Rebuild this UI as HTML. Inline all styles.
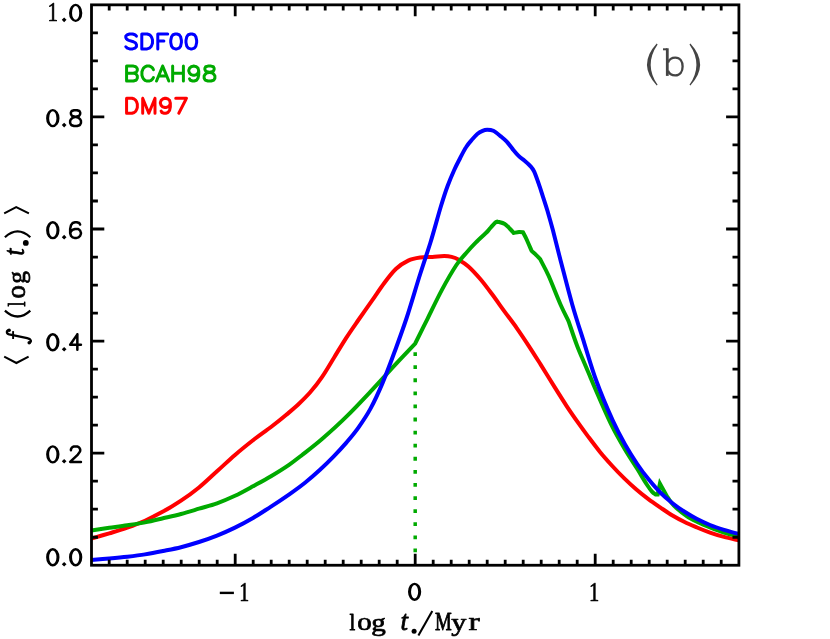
<!DOCTYPE html>
<html><head><meta charset="utf-8"><title>chart</title>
<style>
html,body{margin:0;padding:0;background:#fff;}
body{width:830px;height:639px;overflow:hidden;}
svg{display:block;}
text{font-family:"Liberation Serif",serif;}
.tx{filter:grayscale(1);}
</style></head><body>
<svg width="830" height="639" viewBox="0 0 830 639">
<rect x="0" y="0" width="830" height="639" fill="#fff"/>
<!-- curves -->
<g fill="none" stroke-width="4" stroke-linejoin="round" stroke-linecap="butt">
<path d="M415.2,352.15 V553" stroke="#00aa00" stroke-width="3.5" stroke-dasharray="3.8 9.29"/>
<path d="M91.3,538.6 C94.3,537.7 103.3,535.1 109.3,533.3 C115.3,531.5 121.3,529.8 127.3,527.7 C133.2,525.6 139.1,523.4 145.0,520.7 C150.9,518.0 157.0,514.9 163.0,511.6 C169.0,508.3 175.0,504.7 181.0,500.7 C187.0,496.7 193.0,492.4 199.0,487.5 C205.0,482.6 211.0,476.7 217.0,471.3 C223.0,465.9 229.0,460.2 235.0,455.0 C241.0,449.8 247.0,445.0 253.0,440.3 C259.0,435.6 265.5,431.2 271.0,427.0 C276.5,422.8 281.5,418.8 286.0,415.0 C290.5,411.2 294.2,408.3 298.2,404.5 C302.2,400.7 306.2,396.9 310.2,392.3 C314.2,387.7 318.3,382.5 322.3,376.6 C326.3,370.8 330.3,363.7 334.3,357.2 C338.3,350.7 342.4,343.8 346.4,337.6 C350.4,331.4 354.1,326.2 358.4,320.0 C362.7,313.8 367.7,306.7 372.0,300.6 C376.3,294.5 380.1,288.5 384.1,283.2 C388.1,277.9 392.1,272.6 396.1,268.8 C400.1,265.0 404.2,262.5 408.2,260.6 C412.2,258.7 416.2,258.1 420.2,257.5 C424.2,256.9 428.3,257.1 432.3,256.9 C436.3,256.7 441.1,256.1 444.3,256.1 C447.5,256.1 449.2,256.3 451.6,256.9 C454.0,257.5 456.0,258.2 458.8,259.8 C461.6,261.4 464.8,263.2 468.4,266.4 C472.0,269.6 476.5,274.5 480.5,279.2 C484.5,283.9 488.5,289.4 492.5,294.8 C496.5,300.2 500.6,306.1 504.6,311.6 C508.6,317.1 512.6,322.1 516.6,327.8 C520.6,333.5 524.7,339.7 528.7,345.8 C532.7,351.9 536.4,357.8 540.7,364.6 C545.0,371.5 550.2,380.0 554.5,386.9 C558.8,393.8 562.5,399.7 566.5,405.8 C570.5,411.9 575.0,418.3 578.6,423.4 C582.2,428.5 584.6,431.8 588.2,436.6 C591.8,441.4 596.2,447.3 600.2,452.2 C604.2,457.1 608.3,461.6 612.3,466.0 C616.3,470.4 620.3,474.5 624.3,478.4 C628.3,482.3 632.4,486.1 636.4,489.6 C640.4,493.1 644.4,496.2 648.4,499.2 C652.4,502.2 656.5,504.9 660.5,507.6 C664.5,510.3 668.5,513.1 672.5,515.5 C676.5,517.9 680.5,520.0 684.6,522.0 C688.7,524.0 692.8,525.7 697.0,527.5 C701.2,529.3 705.5,531.0 710.0,532.6 C714.5,534.2 719.2,535.6 724.0,536.9 C728.8,538.2 736.5,539.7 739.0,540.3" stroke="#ff0000"/>
<path d="M91.3,530.4 C94.3,530.0 103.3,528.6 109.3,527.7 C115.3,526.9 121.3,526.2 127.3,525.3 C133.2,524.4 139.1,523.6 145.0,522.4 C150.9,521.2 157.0,519.7 163.0,518.3 C169.0,516.9 175.0,515.6 181.0,514.0 C187.0,512.4 193.0,510.5 199.0,508.7 C205.0,506.9 211.0,505.4 217.0,503.3 C223.0,501.2 229.0,498.6 235.0,495.8 C241.0,493.0 247.0,489.6 253.0,486.3 C259.0,483.0 265.0,479.8 271.0,476.2 C277.0,472.6 283.9,468.3 289.0,464.8 C294.1,461.3 296.2,459.6 301.8,455.2 C307.4,450.8 314.9,445.1 322.3,438.7 C329.7,432.3 338.4,424.5 346.4,416.6 C354.4,408.8 362.5,400.1 370.5,391.6 C378.5,383.1 387.2,373.4 394.6,365.4 C402.1,357.4 411.8,347.1 415.2,343.5 C417.2,339.4 423.1,327.7 427.5,318.8 C431.9,309.9 437.1,298.9 441.9,289.9 C446.7,280.9 452.4,271.1 456.4,265.0 C460.4,258.9 462.8,256.9 466.0,253.2 C469.2,249.5 472.2,246.1 475.7,242.6 C479.1,239.1 484.9,234.0 486.7,232.3 C487.4,231.5 489.6,228.9 491.0,227.3 C492.4,225.7 494.0,223.8 495.1,222.8 C496.2,221.9 497.0,221.8 497.4,221.6 C498.6,222.0 502.7,222.7 504.8,223.9 C506.9,225.1 508.6,227.5 510.1,229.0 C511.6,230.5 513.0,232.2 513.6,232.9 C514.5,232.8 517.4,232.1 519.0,232.0 C520.6,231.9 522.3,232.2 523.0,232.3 C523.7,233.6 525.6,237.1 527.0,240.2 C528.4,243.3 530.8,249.0 531.6,250.8 C532.3,251.5 534.6,253.4 536.0,254.8 C537.4,256.2 539.5,258.5 540.2,259.2 C541.6,262.0 545.2,268.2 548.6,275.8 C552.0,283.4 557.2,297.1 560.6,304.7 C564.0,312.3 567.4,318.8 568.7,321.6 C570.1,325.6 574.1,337.9 577.1,345.7 C580.1,353.5 582.9,359.5 586.7,368.6 C590.6,377.7 595.9,390.4 600.2,400.1 C604.5,409.8 608.2,418.4 612.3,426.6 C616.4,434.8 620.9,442.5 625.0,449.5 C629.1,456.5 633.6,463.0 637.2,468.8 C640.8,474.6 644.3,480.7 646.8,484.5 C649.3,488.3 650.5,489.9 652.0,491.6 C653.5,493.3 655.2,494.1 655.8,494.6 C656.1,494.6 657.4,494.6 657.7,494.6 C658.1,492.8 659.5,485.4 659.9,483.6 C661.1,485.7 665.8,494.3 667.0,496.4 C667.6,497.2 668.9,499.5 670.5,501.5 C672.1,503.5 674.0,505.9 676.7,508.3 C679.5,510.8 683.4,513.9 687.0,516.2 C690.6,518.6 694.6,520.5 698.4,522.4 C702.2,524.3 705.7,525.7 710.0,527.4 C714.3,529.1 719.2,531.0 724.0,532.5 C728.8,534.0 736.5,535.8 739.0,536.4" stroke="#00aa00" stroke-linejoin="miter" stroke-miterlimit="5"/>
<path d="M91.3,559.9 C94.3,559.7 103.3,559.0 109.3,558.5 C115.3,558.0 121.3,557.5 127.3,556.8 C133.2,556.1 139.1,555.4 145.0,554.4 C150.9,553.4 157.0,552.2 163.0,551.0 C169.0,549.8 175.0,548.7 181.0,547.2 C187.0,545.7 193.0,543.9 199.0,542.0 C205.0,540.1 211.0,538.0 217.0,535.6 C223.0,533.2 229.0,530.5 235.0,527.6 C241.0,524.7 247.0,521.5 253.0,518.0 C259.0,514.5 264.9,510.5 271.0,506.6 C277.1,502.7 283.6,498.4 289.3,494.4 C295.0,490.4 299.9,486.9 305.0,482.8 C310.1,478.7 315.2,474.2 320.0,469.8 C324.8,465.4 329.1,461.1 333.5,456.6 C337.9,452.1 342.2,447.4 346.4,442.6 C350.5,437.8 354.4,433.3 358.4,427.6 C362.4,421.9 366.5,416.0 370.5,408.6 C374.5,401.2 378.5,392.6 382.5,383.1 C386.5,373.6 390.6,362.7 394.6,351.8 C398.6,340.9 402.3,331.0 406.6,318.0 C410.9,305.0 416.2,286.5 420.2,274.0 C424.1,261.5 426.8,254.3 430.3,243.0 C433.8,231.7 438.1,215.5 441.0,206.0 C443.9,196.5 445.4,191.9 447.6,186.0 C449.8,180.1 451.9,175.2 454.0,170.5 C456.1,165.8 458.2,161.9 460.2,158.0 C462.2,154.1 464.2,150.0 466.2,147.0 C468.1,144.0 470.0,142.0 471.9,139.8 C473.8,137.6 475.5,135.5 477.3,134.0 C479.1,132.5 481.0,131.5 482.6,130.8 C484.2,130.1 485.4,129.8 487.2,129.8 C489.0,129.8 491.1,129.8 493.3,130.8 C495.5,131.9 498.3,134.3 500.5,136.1 C502.7,137.9 504.5,139.3 506.5,141.4 C508.5,143.5 510.5,146.5 512.5,148.9 C514.5,151.3 516.6,153.9 518.6,155.9 C520.6,157.9 522.6,159.0 524.6,160.7 C526.6,162.4 529.0,164.5 530.6,166.3 C532.2,168.1 532.9,168.8 534.2,171.6 C535.5,174.4 537.1,179.2 538.6,183.4 C540.1,187.6 541.5,192.2 543.0,196.8 C544.5,201.5 546.0,205.8 547.6,211.3 C549.2,216.8 550.7,221.9 552.8,229.8 C554.9,237.8 557.0,246.5 560.2,259.0 C563.5,271.5 568.3,290.6 572.3,304.7 C576.3,318.8 580.3,330.6 584.3,343.3 C588.3,356.0 591.6,368.1 596.4,381.0 C601.1,393.9 608.0,410.0 612.8,420.6 C617.6,431.2 621.1,437.5 625.2,444.7 C629.3,451.9 633.3,458.2 637.2,464.0 C641.1,469.8 644.9,474.8 648.8,479.6 C652.7,484.4 656.5,488.8 660.5,492.7 C664.5,496.6 668.5,500.0 672.5,503.2 C676.5,506.4 680.6,509.2 684.6,511.8 C688.6,514.4 692.4,516.6 696.6,518.8 C700.8,521.0 705.4,523.1 710.0,525.0 C714.6,526.9 719.2,528.4 724.0,529.9 C728.8,531.4 736.5,533.3 739.0,534.0" stroke="#0000ff"/>
</g>
<!-- frame -->
<rect x="91.5" y="4.85" width="647.40" height="560.40" fill="none" stroke="#000" stroke-width="2.8"/>
<path d="M109.2,4.85 v5.6 M109.2,565.25 v-5.6 M127.2,4.85 v5.6 M127.2,565.25 v-5.6 M145.2,4.85 v5.6 M145.2,565.25 v-5.6 M163.2,4.85 v5.6 M163.2,565.25 v-5.6 M181.2,4.85 v5.6 M181.2,565.25 v-5.6 M199.2,4.85 v5.6 M199.2,565.25 v-5.6 M217.2,4.85 v5.6 M217.2,565.25 v-5.6 M235.2,4.85 v11.4 M235.2,565.25 v-11.4 M253.2,4.85 v5.6 M253.2,565.25 v-5.6 M271.2,4.85 v5.6 M271.2,565.25 v-5.6 M289.2,4.85 v5.6 M289.2,565.25 v-5.6 M307.2,4.85 v5.6 M307.2,565.25 v-5.6 M325.2,4.85 v5.6 M325.2,565.25 v-5.6 M343.2,4.85 v5.6 M343.2,565.25 v-5.6 M361.2,4.85 v5.6 M361.2,565.25 v-5.6 M379.2,4.85 v5.6 M379.2,565.25 v-5.6 M397.2,4.85 v5.6 M397.2,565.25 v-5.6 M415.2,4.85 v11.4 M415.2,565.25 v-11.4 M433.2,4.85 v5.6 M433.2,565.25 v-5.6 M451.2,4.85 v5.6 M451.2,565.25 v-5.6 M469.2,4.85 v5.6 M469.2,565.25 v-5.6 M487.2,4.85 v5.6 M487.2,565.25 v-5.6 M505.2,4.85 v5.6 M505.2,565.25 v-5.6 M523.2,4.85 v5.6 M523.2,565.25 v-5.6 M541.2,4.85 v5.6 M541.2,565.25 v-5.6 M559.2,4.85 v5.6 M559.2,565.25 v-5.6 M577.2,4.85 v5.6 M577.2,565.25 v-5.6 M595.2,4.85 v11.4 M595.2,565.25 v-11.4 M613.2,4.85 v5.6 M613.2,565.25 v-5.6 M631.2,4.85 v5.6 M631.2,565.25 v-5.6 M649.2,4.85 v5.6 M649.2,565.25 v-5.6 M667.2,4.85 v5.6 M667.2,565.25 v-5.6 M685.2,4.85 v5.6 M685.2,565.25 v-5.6 M703.2,4.85 v5.6 M703.2,565.25 v-5.6 M721.2,4.85 v5.6 M721.2,565.25 v-5.6 M91.5,537.23 h6.4 M738.9,537.23 h-6.4 M91.5,509.21 h6.4 M738.9,509.21 h-6.4 M91.5,481.19 h6.4 M738.9,481.19 h-6.4 M91.5,453.17 h12.8 M738.9,453.17 h-12.8 M91.5,425.15 h6.4 M738.9,425.15 h-6.4 M91.5,397.13 h6.4 M738.9,397.13 h-6.4 M91.5,369.11 h6.4 M738.9,369.11 h-6.4 M91.5,341.09 h12.8 M738.9,341.09 h-12.8 M91.5,313.07 h6.4 M738.9,313.07 h-6.4 M91.5,285.05 h6.4 M738.9,285.05 h-6.4 M91.5,257.03 h6.4 M738.9,257.03 h-6.4 M91.5,229.01 h12.8 M738.9,229.01 h-12.8 M91.5,200.99 h6.4 M738.9,200.99 h-6.4 M91.5,172.97 h6.4 M738.9,172.97 h-6.4 M91.5,144.95 h6.4 M738.9,144.95 h-6.4 M91.5,116.93 h12.8 M738.9,116.93 h-12.8 M91.5,88.91 h6.4 M738.9,88.91 h-6.4 M91.5,60.89 h6.4 M738.9,60.89 h-6.4 M91.5,32.87 h6.4 M738.9,32.87 h-6.4" stroke="#000" stroke-width="2.8" fill="none"/>
<!-- y tick labels -->
<g class="tx">
<text transform="matrix(0.2102,0,0,0.2636,47.45,21.45)" font-size="100" fill="#000" stroke="#000" stroke-width="2.55" stroke-linejoin="round">1</text>
<path d="M64.15,17.55 l2.35,2.3 l-2.35,2.3 l-2.35,-2.3 z" fill="#000"/>
<path d="M69.00,12.90 a6.65,9.15 0 1,0 13.30,0 a6.65,9.15 0 1,0 -13.30,0 Z M72.05,12.90 a3.60,6.80 0 1,0 7.20,0 a3.60,6.80 0 1,0 -7.20,0 Z" fill="#000" fill-rule="evenodd"/>
<path d="M46.10,118.15 a6.70,9.15 0 1,0 13.40,0 a6.70,9.15 0 1,0 -13.40,0 Z M49.15,118.15 a3.65,6.80 0 1,0 7.30,0 a3.65,6.80 0 1,0 -7.30,0 Z" fill="#000" fill-rule="evenodd"/>
<path d="M64.15,122.80 l2.35,2.3 l-2.35,2.3 l-2.35,-2.3 z" fill="#000"/>
<path d="M74.01,110.25 L71.69,111.00 L70.92,112.51 L70.92,114.01 L71.69,115.52 L73.24,116.27 L76.32,117.02 L78.64,117.77 L80.18,119.28 L80.95,120.78 L80.95,123.04 L80.18,124.55 L79.41,125.30 L77.09,126.05 L74.01,126.05 L71.69,125.30 L70.92,124.55 L70.15,123.04 L70.15,120.78 L70.92,119.28 L72.46,117.77 L74.78,117.02 L77.86,116.27 L79.41,115.52 L80.18,114.01 L80.18,112.51 L79.41,111.00 L77.09,110.25 L74.01,110.25" fill="none" stroke="#000" stroke-width="2.50" stroke-linejoin="round" stroke-linecap="round"/>
<path d="M46.10,230.20 a6.70,9.15 0 1,0 13.40,0 a6.70,9.15 0 1,0 -13.40,0 Z M49.15,230.20 a3.65,6.80 0 1,0 7.30,0 a3.65,6.80 0 1,0 -7.30,0 Z" fill="#000" fill-rule="evenodd"/>
<path d="M64.15,234.85 l2.35,2.3 l-2.35,2.3 l-2.35,-2.3 z" fill="#000"/>
<path d="M80.12,224.56 L79.29,223.05 L76.80,222.30 L75.13,222.30 L72.64,223.05 L70.98,225.31 L70.15,229.07 L70.15,232.83 L70.98,235.84 L72.64,237.35 L75.13,238.10 L75.97,238.10 L78.46,237.35 L80.12,235.84 L80.95,233.59 L80.95,232.83 L80.12,230.58 L78.46,229.07 L75.97,229.07 L75.13,229.07 L72.64,229.82 L70.98,231.33 L70.15,233.59" fill="none" stroke="#000" stroke-width="2.50" stroke-linejoin="round" stroke-linecap="round"/>
<path d="M46.10,342.25 a6.70,9.15 0 1,0 13.40,0 a6.70,9.15 0 1,0 -13.40,0 Z M49.15,342.25 a3.65,6.80 0 1,0 7.30,0 a3.65,6.80 0 1,0 -7.30,0 Z" fill="#000" fill-rule="evenodd"/>
<path d="M64.15,346.90 l2.35,2.3 l-2.35,2.3 l-2.35,-2.3 z" fill="#000"/>
<path d="M77.35,334.35 L70.15,344.68 L80.95,344.68 M77.35,334.35 L77.35,349.85" fill="none" stroke="#000" stroke-width="2.50" stroke-linejoin="round" stroke-linecap="round"/>
<path d="M46.10,454.35 a6.70,9.15 0 1,0 13.40,0 a6.70,9.15 0 1,0 -13.40,0 Z M49.15,454.35 a3.65,6.80 0 1,0 7.30,0 a3.65,6.80 0 1,0 -7.30,0 Z" fill="#000" fill-rule="evenodd"/>
<path d="M64.15,459.00 l2.35,2.3 l-2.35,2.3 l-2.35,-2.3 z" fill="#000"/>
<path d="M70.92,450.14 L70.92,449.40 L71.69,447.93 L72.46,447.19 L74.01,446.45 L77.09,446.45 L78.64,447.19 L79.41,447.93 L80.18,449.40 L80.18,450.88 L79.41,452.35 L77.86,454.57 L70.15,461.95 L80.95,461.95" fill="none" stroke="#000" stroke-width="2.50" stroke-linejoin="round" stroke-linecap="round"/>
<path d="M46.10,557.25 a6.70,9.15 0 1,0 13.40,0 a6.70,9.15 0 1,0 -13.40,0 Z M49.15,557.25 a3.65,6.80 0 1,0 7.30,0 a3.65,6.80 0 1,0 -7.30,0 Z" fill="#000" fill-rule="evenodd"/>
<path d="M64.15,561.90 l2.35,2.3 l-2.35,2.3 l-2.35,-2.3 z" fill="#000"/>
<path d="M69.00,557.25 a6.65,9.15 0 1,0 13.30,0 a6.65,9.15 0 1,0 -13.30,0 Z M72.05,557.25 a3.60,6.80 0 1,0 7.20,0 a3.60,6.80 0 1,0 -7.20,0 Z" fill="#000" fill-rule="evenodd"/>
</g>
<!-- x tick labels -->
<g class="tx">
<path d="M408.00,591.80 a6.60,9.10 0 1,0 13.20,0 a6.60,9.10 0 1,0 -13.20,0 Z M411.05,591.80 a3.55,6.75 0 1,0 7.10,0 a3.55,6.75 0 1,0 -7.10,0 Z" fill="#000" fill-rule="evenodd"/>
<text transform="matrix(0.2045,0,0,0.2636,589.10,600.50)" font-size="100" fill="#000" stroke="#000" stroke-width="2.58" stroke-linejoin="round">1</text>
<text transform="matrix(0.1988,0,0,0.2636,239.35,600.50)" font-size="100" fill="#000" stroke="#000" stroke-width="2.62" stroke-linejoin="round">1</text>
<path d="M219.8,592.9 H233.9" stroke="#000" stroke-width="2.4" fill="none"/>
</g>
<!-- x title -->
<g class="tx">
<text transform="matrix(0.2082,0,0,0.2342,349.56,629.92)" font-size="100" fill="#000" stroke="#000" stroke-width="3.40" stroke-linejoin="round">l</text>
<text transform="matrix(0.2890,0,0,0.2485,357.17,630.08)" font-size="100" fill="#000" stroke="#000" stroke-width="2.80" stroke-linejoin="round">o</text>
<text transform="matrix(0.2911,0,0,0.2421,371.32,630.60)" font-size="100" fill="#000" stroke="#000" stroke-width="2.83" stroke-linejoin="round">g</text>
<text transform="matrix(0.2698,0,0,0.2802,400.49,629.75)" font-size="100" font-style="italic" fill="#000" stroke="#000" stroke-width="2.73" stroke-linejoin="round">t</text>
<circle cx="414.1" cy="631.3" r="2.5" fill="#000"/>
<path d="M418.4,635.4 L432.3,610.9" stroke="#000" stroke-width="2.1" fill="none"/>
<text transform="matrix(0.1883,0,0,0.2466,434.93,629.92)" font-size="100" fill="#000" stroke="#000" stroke-width="3.48" stroke-linejoin="round">M</text>
<text transform="matrix(0.3028,0,0,0.2616,451.31,630.58)" font-size="100" fill="#000" stroke="#000" stroke-width="2.67" stroke-linejoin="round">y</text>
<text transform="matrix(0.3370,0,0,0.2451,468.50,629.92)" font-size="100" fill="#000" stroke="#000" stroke-width="2.61" stroke-linejoin="round">r</text>
</g>
<!-- y title -->
<g class="tx" transform="translate(25.2,363.0) rotate(-90)">
<path d="M6.4,-21.0 L0,-8.8 L6.4,3.4" stroke="#000" stroke-width="2" fill="none"/>
<path d="M32.9,-16.2 C32.6,-18.9 29.5,-19.2 28.6,-16.0 L24.9,2.0 C24.1,6.0 21.0,6.8 20.3,4.2" stroke="#000" stroke-width="2.3" fill="none" stroke-linecap="round"/><circle cx="32.8" cy="-16.1" r="1.75" fill="#000"/><circle cx="20.3" cy="4.0" r="1.75" fill="#000"/><path d="M24.0,-12.1 H31.9" stroke="#000" stroke-width="1.9" fill="none"/>
<path d="M52.4,-20.3 Q40.6,-7.6 52.4,5.1" stroke="#000" stroke-width="2.2" fill="none"/>
<text transform="matrix(0.1787,0,0,0.2443,56.62,-0.18)" font-size="100" fill="#000" stroke="#000" stroke-width="3.59" stroke-linejoin="round">l</text>
<text transform="matrix(0.2654,0,0,0.2693,64.46,-0.14)" font-size="100" fill="#000" stroke="#000" stroke-width="2.81" stroke-linejoin="round">o</text>
<text transform="matrix(0.2546,0,0,0.2531,79.18,-0.04)" font-size="100" fill="#000" stroke="#000" stroke-width="2.95" stroke-linejoin="round">g</text>
<text transform="matrix(0.2501,0,0,0.2890,107.38,-0.86)" font-size="100" font-style="italic" fill="#000" stroke="#000" stroke-width="2.79" stroke-linejoin="round">t</text>
<circle cx="120.1" cy="0.6" r="2.9" fill="#000"/>
<path d="M125.7,-20.3 Q137.5,-7.6 125.7,5.1" stroke="#000" stroke-width="2.2" fill="none"/>
<path d="M149.7,-21.0 L156,-9.0 L149.7,3.7" stroke="#000" stroke-width="2" fill="none"/>
</g>
<!-- legend -->
<g>
<path d="M136.45,36.12 L134.93,34.70 L132.64,33.99 L129.60,33.99 L127.31,34.70 L125.79,36.12 L125.79,37.54 L126.55,38.96 L127.31,39.67 L128.83,40.38 L133.41,41.80 L134.93,42.51 L135.69,43.22 L136.45,44.64 L136.45,46.77 L134.93,48.19 L132.64,48.90 L129.60,48.90 L127.31,48.19 L125.79,46.77 M141.79,33.99 L141.79,48.90 M141.79,33.99 L147.12,33.99 L149.41,34.70 L150.93,36.12 L151.69,37.54 L152.46,39.67 L152.46,43.22 L151.69,45.35 L150.93,46.77 L149.41,48.19 L147.12,48.90 L141.79,48.90 M157.79,33.99 L157.79,48.90 M157.79,33.99 L167.70,33.99 M157.79,41.09 L163.89,41.09 M175.32,33.99 L173.03,34.70 L171.51,36.83 L170.74,40.38 L170.74,42.51 L171.51,46.06 L173.03,48.19 L175.32,48.90 L176.84,48.90 L179.13,48.19 L180.65,46.06 L181.41,42.51 L181.41,40.38 L180.65,36.83 L179.13,34.70 L176.84,33.99 L175.32,33.99 M190.56,33.99 L188.27,34.70 L186.75,36.83 L185.98,40.38 L185.98,42.51 L186.75,46.06 L188.27,48.19 L190.56,48.90 L192.08,48.90 L194.37,48.19 L195.89,46.06 L196.65,42.51 L196.65,40.38 L195.89,36.83 L194.37,34.70 L192.08,33.99 L190.56,33.99" stroke="#0000ff" stroke-width="3" fill="none" stroke-linecap="round" stroke-linejoin="round"/>
<path d="M126.57,66.09 L126.57,81.00 M126.57,66.09 L133.48,66.09 L135.79,66.80 L136.56,67.51 L137.32,68.93 L137.32,70.35 L136.56,71.77 L135.79,72.48 L133.48,73.19 M126.57,73.19 L133.48,73.19 L135.79,73.90 L136.56,74.61 L137.32,76.03 L137.32,78.16 L136.56,79.58 L135.79,80.29 L133.48,81.00 L126.57,81.00 M153.45,69.64 L152.68,68.22 L151.15,66.80 L149.61,66.09 L146.54,66.09 L145.00,66.80 L143.47,68.22 L142.70,69.64 L141.93,71.77 L141.93,75.32 L142.70,77.45 L143.47,78.87 L145.00,80.29 L146.54,81.00 L149.61,81.00 L151.15,80.29 L152.68,78.87 L153.45,77.45 M162.67,66.09 L156.52,81.00 M162.67,66.09 L168.81,81.00 M158.83,76.03 L166.51,76.03 M172.65,66.09 L172.65,81.00 M183.40,66.09 L183.40,81.00 M172.65,73.19 L183.40,73.19 M198.76,71.06 L198.00,73.19 L196.46,74.61 L194.16,75.32 L193.39,75.32 L191.08,74.61 L189.55,73.19 L188.78,71.06 L188.78,70.35 L189.55,68.22 L191.08,66.80 L193.39,66.09 L194.16,66.09 L196.46,66.80 L198.00,68.22 L198.76,71.06 L198.76,74.61 L198.00,78.16 L196.46,80.29 L194.16,81.00 L192.62,81.00 L190.32,80.29 L189.55,78.87 M207.98,66.09 L205.68,66.80 L204.91,68.22 L204.91,69.64 L205.68,71.06 L207.21,71.77 L210.28,72.48 L212.59,73.19 L214.12,74.61 L214.89,76.03 L214.89,78.16 L214.12,79.58 L213.36,80.29 L211.05,81.00 L207.98,81.00 L205.68,80.29 L204.91,79.58 L204.14,78.16 L204.14,76.03 L204.91,74.61 L206.44,73.19 L208.75,72.48 L211.82,71.77 L213.36,71.06 L214.12,69.64 L214.12,68.22 L213.36,66.80 L211.05,66.09 L207.98,66.09" stroke="#00aa00" stroke-width="3" fill="none" stroke-linecap="round" stroke-linejoin="round"/>
<path d="M126.57,98.29 L126.57,113.20 M126.57,98.29 L131.95,98.29 L134.25,99.00 L135.79,100.42 L136.56,101.84 L137.32,103.97 L137.32,107.52 L136.56,109.65 L135.79,111.07 L134.25,112.49 L131.95,113.20 L126.57,113.20 M142.70,98.29 L142.70,113.20 M142.70,98.29 L148.84,113.20 M154.99,98.29 L148.84,113.20 M154.99,98.29 L154.99,113.20 M170.35,103.26 L169.58,105.39 L168.04,106.81 L165.74,107.52 L164.97,107.52 L162.67,106.81 L161.13,105.39 L160.36,103.26 L160.36,102.55 L161.13,100.42 L162.67,99.00 L164.97,98.29 L165.74,98.29 L168.04,99.00 L169.58,100.42 L170.35,103.26 L170.35,106.81 L169.58,110.36 L168.04,112.49 L165.74,113.20 L164.20,113.20 L161.90,112.49 L161.13,111.07 M186.48,98.29 L178.80,113.20 M175.72,98.29 L186.48,98.29" stroke="#ff0000" stroke-width="3" fill="none" stroke-linecap="round" stroke-linejoin="round"/>
</g>
<!-- (b) -->
<g fill="#444" stroke="none">
<path d="M656.7,43.6 Q637.3,64.6 656.7,85.6 L657.6,84.8 Q643.8,64.6 657.6,44.4 Z"/>
<path d="M690.4,43.6 Q709.8,64.6 690.4,85.6 L689.5,84.8 Q703.3,64.6 689.5,44.4 Z"/>
<path d="M663.0,49.3 H667.3" stroke="#444" stroke-width="2.0" fill="none"/><path d="M667.3,48.3 V75.9" stroke="#444" stroke-width="2.8" fill="none"/>
<path d="M668.0,62.5 C669.5,58.5 672.5,57.6 675.3,57.6 C680.2,57.6 682.6,61.6 682.6,66.5 C682.6,71.4 680.2,75.4 675.3,75.4 C672.5,75.4 669.5,74.5 668.0,70.8" stroke="#444" stroke-width="2.3" fill="none"/>
</g>

</svg>
</body></html>
